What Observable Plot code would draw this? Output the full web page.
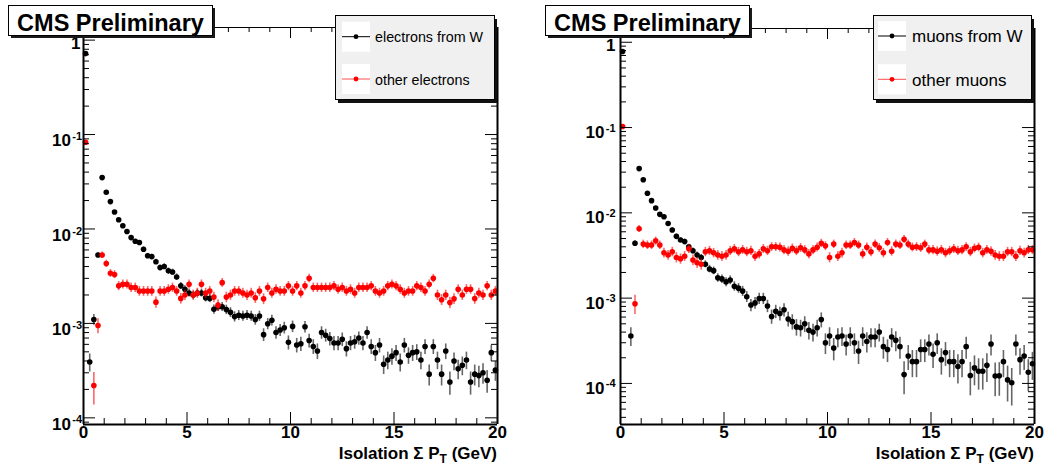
<!DOCTYPE html>
<html><head><meta charset="utf-8">
<script src="https://cdn.jsdelivr.net/npm/d3@7"></script>
<script src="https://cdn.jsdelivr.net/npm/@observablehq/plot@0.6"></script>
<style>
body{margin:0;background:#fff;font-family:"Liberation Sans",Arial,sans-serif;}
#root{position:relative;width:1044px;height:465px;overflow:hidden;background:#fff;}
#root svg.panel{position:absolute;top:0;}
#overlay{position:absolute;left:0;top:0;pointer-events:none;}
</style></head><body><div id="root"></div>
<script>
// ---- data (bins of 0.2 GeV, centres 0.1 ... 19.9) ----
const binCenters = d3.range(100).map(i => +(0.1 + 0.2 * i).toFixed(1));

const electronsFromW = [
  0.72, 3.9e-4, 1.1e-3, 5.3e-3, 0.035, 0.0245, 0.0195, 0.0151, 0.0125, 0.0108,
  0.0094, 0.0081, 0.0074, 0.0072, 0.0061, 0.0052, 0.0051, 0.0045, 0.0039, 0.0040,
  0.0036, 0.0035, 0.0031, 0.0025, 0.0023, 0.0021, 0.0020, 0.0021, 0.0021, 0.00187,
  0.00184, 0.00141, 0.0015, 0.0015, 0.0014, 0.00131, 0.00118, 0.00122, 0.0012, 0.00122,
  0.0012, 0.0011, 0.0012, 0.00076, 0.00099, 0.00108, 0.0008, 0.00085, 0.0009, 0.00063,
  0.00093, 0.00059, 0.00061, 0.00092, 0.00066, 0.00057, 0.00051, 0.0008, 0.00075, 0.00069,
  0.00062, 0.00062, 0.00068, 0.00054, 0.00062, 0.00064, 0.0007, 0.00062, 0.0008, 0.00057,
  0.00049, 0.00059, 0.00037, 0.00041, 0.00045, 0.00049, 0.00039, 0.00059, 0.00046, 0.00049,
  0.0005, 0.00041, 0.00057, 0.00029, 0.00057, 0.00041, 0.00029, 0.00051, 0.00024, 0.0004,
  0.00033, 0.00036, 0.00041, 0.00024, 0.00029, 0.00028, 0.0003, 0.00025, 0.00049, 0.00032
];
const otherElectrons = [
  0.083, null, 2.2e-4, 9.5e-4, 5.3e-3, 0.0043, 0.0034, 0.0033, 0.0025, 0.0026,
  0.0026, 0.0024, 0.0024, 0.0022, 0.0022, 0.0022, 0.0022, 0.00168, 0.0022, 0.0022,
  0.0023, 0.0024, 0.0022, 0.00184, 0.0020, 0.0026, 0.0020, 0.0021, 0.0026, 0.0021,
  0.0022, 0.0019, 0.00156, 0.0027, 0.0019, 0.0020, 0.0022, 0.0022, 0.0021, 0.0020,
  0.0021, 0.00187, 0.0022, 0.00182, 0.0024, 0.0021, 0.0023, 0.0022, 0.0022, 0.0025,
  0.0022, 0.0025, 0.0021, 0.0025, 0.0030, 0.0024, 0.0024, 0.0024, 0.0024, 0.0024,
  0.0025, 0.0023, 0.0024, 0.0022, 0.0023, 0.0021, 0.0024, 0.0024, 0.0024, 0.0025,
  0.0022, 0.0021, 0.0022, 0.0025, 0.0026, 0.0025, 0.0023, 0.0021, 0.0022, 0.0022,
  0.0025, 0.0024, 0.0022, 0.0026, 0.0030, 0.0020, 0.00178, 0.0020, 0.00166, 0.00182,
  0.0023, 0.0020, 0.0023, 0.0023, 0.00183, 0.0021, 0.0020, 0.0025, 0.0020, 0.0022
];
const muonsFromW = [
  0.78, null, 3.6e-4, 0.0044, 0.033, 0.0244, 0.017, 0.0139, 0.0114, 0.0096,
  0.009, 0.0075, 0.0063, 0.0053, 0.0048, 0.0046, 0.0040, 0.0036, 0.0032, 0.0030,
  0.0025, 0.0022, 0.0021, 0.00173, 0.00168, 0.00155, 0.00163, 0.00138, 0.00131, 0.00121,
  0.00104, 0.00083, 0.00088, 0.00099, 0.00099, 0.00081, 0.00061, 0.0007, 0.00066, 0.00073,
  0.00057, 0.00053, 0.00046, 0.00045, 0.0005, 0.00042, 0.0004, 0.00045, 0.00056, 0.0003,
  0.00036, 0.00026, 0.00035, 0.00036, 0.00029, 0.00036, 0.0003, 0.00024, 0.00036, 0.00031,
  0.00035, 0.00035, 0.0004, 0.00027, 0.00025, 0.00035, 0.00032, 0.00027, 0.000127, 0.00021,
  0.00018, 0.00018, 0.00025, 0.00025, 0.00029, 0.00022, 0.0003, 0.00019, 0.00023, 0.00018,
  0.00018, 0.000158, 0.00018, 0.00027, 0.000124, 0.000152, 0.000139, 0.000139, 0.000163, 0.00029,
  0.000122, 0.000123, 0.00018, 0.00011, 0.000102, 0.00029, 0.00019, 0.00021, 0.000135, 0.00017
];
const otherMuons = [
  0.103, null, null, 8.6e-4, 0.0065, 0.0043, 0.0042, 0.0042, 0.0047, 0.0042,
  0.0034, 0.0032, 0.0035, 0.0030, 0.0029, 0.0031, 0.0038, 0.0028, 0.0026, 0.0025,
  0.0035, 0.0036, 0.0034, 0.0032, 0.0031, 0.0032, 0.0036, 0.0038, 0.0035, 0.0037,
  0.0035, 0.0036, 0.0031, 0.0033, 0.0038, 0.0036, 0.0040, 0.0040, 0.00395, 0.00368,
  0.00355, 0.00385, 0.0036, 0.0039, 0.00368, 0.0033, 0.00368, 0.00395, 0.0044, 0.0041,
  0.0030, 0.0043, 0.0031, 0.0034, 0.0042, 0.0042, 0.0045, 0.0042, 0.0033, 0.00395,
  0.0035, 0.0043, 0.0039, 0.0034, 0.0045, 0.00355, 0.0043, 0.0042, 0.0049, 0.0043,
  0.00395, 0.0040, 0.0039, 0.0043, 0.00368, 0.00368, 0.00355, 0.0037, 0.0034, 0.0036,
  0.0038, 0.0036, 0.00368, 0.0040, 0.0035, 0.00385, 0.00395, 0.0034, 0.0037, 0.00355,
  0.0032, 0.0031, 0.0031, 0.0035, 0.0035, 0.0031, 0.0036, 0.0034, 0.0037, 0.0037
];
// effective number of entries (sets the size of the statistical error bars)
const entriesElectronsFromW = 55000;
const entriesOtherElectrons = 32000;
const entriesMuonsFromW = 45000;
const entriesOtherMuons = 18000;

const xMajorTicks = [0, 5, 10, 15, 20];
const xTickLabels = ["0", "5", "10", "15", "20"];
const legendElectrons = ["electrons from W", "other electrons"];
const legendMuons = ["muons from W", "other muons"];
const panelTitle = "CMS Preliminary";

// ---- drawing ----
const H = 465;
const FONT = "'Liberation Sans', Arial, Helvetica, sans-serif";

function series(vals, nTot, ymin) {
  const out = [];
  vals.forEach((v, i) => {
    if (v == null) return;
    const rel = 1 / Math.sqrt(v * nTot);
    out.push({x: binCenters[i], v, lo: Math.max(v * (1 - rel), ymin * 0.3), hi: v * (1 + rel)});
  });
  return out;
}

function makePanel(o) {
  const iw = o.width - o.ml - o.mr, ih = H - o.mt - o.mb;
  const [y0, y1] = o.ydom;
  const decades = [], minors = [];
  for (let e = -6; e <= 1; e++) {
    const d = Math.pow(10, e);
    if (d >= y0 && d <= y1) decades.push(d);
    for (let k = 2; k <= 9; k++) { const m = k * Math.pow(10, e); if (m >= y0 && m <= y1) minors.push(m); }
  }
  const xMinor = d3.range(0, 21).filter(v => v % 5 !== 0);
  const A = series(o.a, o.na, y0), B = series(o.b, o.nb, y0);
  const lab = {fontSize: 17, fontWeight: "bold", fill: "#000", fontFamily: FONT};
  const sub1 = decades.filter(d => d < 0.5), one = decades.filter(d => d >= 0.5);
  return Plot.plot({
    width: o.width, height: H,
    marginLeft: o.ml, marginRight: o.mr, marginTop: o.mt, marginBottom: o.mb,
    style: {fontFamily: FONT, background: "transparent", overflow: "visible"},
    x: {domain: [0, 20], axis: null},
    y: {type: "log", domain: o.ydom, axis: null},
    marks: [
      Plot.ruleX(A, {x: "x", y1: "lo", y2: "hi", stroke: "#000", strokeOpacity: 0.6, strokeWidth: 1.6, clip: true}),
      Plot.dot(A, {x: "x", y: "v", r: 2.8, fill: "#000", stroke: "none"}),
      Plot.ruleX(B, {x: "x", y1: "lo", y2: "hi", stroke: "#f00", strokeOpacity: 0.6, strokeWidth: 1.6, clip: true}),
      Plot.dot(B, {x: "x", y: "v", r: 2.8, fill: "#f00", stroke: "none"}),
      // ticks: bottom (up), top (down)
      Plot.tickX(xMajorTicks, {x: d => d, insetTop: ih - 12, stroke: "#000"}),
      Plot.tickX(xMinor, {x: d => d, insetTop: ih - 6, stroke: "#000"}),
      Plot.tickX(xMajorTicks, {x: d => d, insetBottom: ih - 11, stroke: "#000"}),
      Plot.tickX(xMinor, {x: d => d, insetBottom: ih - 5, stroke: "#000"}),
      // ticks: left (right), right (left)
      Plot.tickY(decades, {y: d => d, insetRight: iw - 12, stroke: "#000"}),
      Plot.tickY(minors, {y: d => d, insetRight: iw - 6, stroke: "#000"}),
      Plot.tickY(decades, {y: d => d, insetLeft: iw - 12, stroke: "#000"}),
      Plot.tickY(minors, {y: d => d, insetLeft: iw - 6, stroke: "#000"}),
      // frame
      Plot.ruleY([y1], {stroke: "#000", strokeWidth: 1}),
      Plot.ruleX([0, 20], {stroke: "#000", strokeWidth: 2}),
      Plot.ruleY([y0], {stroke: "#000", strokeWidth: 2}),
      // x tick labels
      Plot.text(xMajorTicks, {x: d => d, frameAnchor: "bottom", text: (d, i) => xTickLabels[i], dy: 13, ...lab}),
      // y tick labels 10^n
      Plot.text(sub1, {y: d => d, frameAnchor: "left", text: () => "10", textAnchor: "end", dx: o.tenDx, dy: o.tenDy, ...lab}),
      Plot.text(sub1, {y: d => d, frameAnchor: "left", text: d => "-" + Math.round(-Math.log10(d)), textAnchor: "end", dx: o.expDx, dy: o.expDy, ...lab, fontSize: o.expFs}),
      Plot.text(one, {y: d => d, frameAnchor: "left", text: () => "1", textAnchor: "end", dx: o.oneDx, dy: 3.5, ...lab})
    ]
  });
}

const root = document.getElementById("root");
const panels = [
  {left: 0, width: 522, ml: 83, mr: 25, mt: 27, mb: 41, ydom: [8.5e-5, 1.36],
   a: electronsFromW, b: otherElectrons, na: entriesElectronsFromW, nb: entriesOtherElectrons,
   tenDx: -12.5, tenDy: 6.5, expDx: -1.5, expDy: 2, expFs: 11, oneDx: -3},
  {left: 522, width: 522, ml: 98, mr: 10, mt: 28, mb: 41, ydom: [3.3e-5, 1.45],
   a: muonsFromW, b: otherMuons, na: entriesMuonsFromW, nb: entriesOtherMuons,
   tenDx: -16, tenDy: 5, expDx: -5, expDy: 0.5, expFs: 11, oneDx: -5}
];
panels.forEach(p => {
  const svg = makePanel(p);
  svg.classList.add("panel");
  svg.style.left = p.left + "px";
  root.appendChild(svg);
});

// ---- overlay: titles, legends, axis titles ----
const ov = d3.select(root).append("svg").attr("id", "overlay").attr("width", 1044).attr("height", H)
  .style("font-family", FONT);

function titleBox(x, y, w, h) {
  ov.append("rect").attr("x", x + 3).attr("y", y + 3).attr("width", w).attr("height", h).attr("fill", "#1a1a1a");
  ov.append("rect").attr("x", x + 0.5).attr("y", y + 0.5).attr("width", w).attr("height", h).attr("fill", "#fff").attr("stroke", "#000");
  ov.append("text").attr("x", x + w / 2 + 0.5).attr("y", y + 26).attr("text-anchor", "middle")
    .attr("font-size", 23.5).attr("font-weight", "bold").text(panelTitle);
}
titleBox(8, 5, 204, 30);
titleBox(545, 5, 204, 30);

function legend(x, y, w, h, sx, tx, rowsY, labels, fs) {
  ov.append("rect").attr("x", x + 3).attr("y", y + 4).attr("width", w).attr("height", h).attr("fill", "#111");
  ov.append("rect").attr("x", x + 0.5).attr("y", y + 0.5).attr("width", w).attr("height", h).attr("fill", "#f0f0f0").attr("stroke", "#000");
  const cols = ["#000", "#f00"];
  labels.forEach((lbl, i) => {
    const cy = rowsY[i];
    ov.append("rect").attr("x", sx).attr("y", cy - 15).attr("width", 28).attr("height", 30).attr("fill", "#fff");
    ov.append("line").attr("x1", sx).attr("x2", sx + 28).attr("y1", cy).attr("y2", cy)
      .attr("stroke", cols[i]).attr("stroke-width", 1).attr("stroke-opacity", i ? 0.7 : 1);
    ov.append("circle").attr("cx", sx + 14).attr("cy", cy).attr("r", 2.4).attr("fill", cols[i]);
    ov.append("text").attr("x", tx).attr("y", cy + 2).attr("dominant-baseline", "middle")
      .attr("font-size", fs).attr("fill", "#000").text(lbl);
  });
}
legend(335, 15, 159, 84, 342, 375, [36.7, 79], legendElectrons, 14.3);
legend(873, 15, 158, 84, 878, 912, [36, 79.3], legendMuons, 17);

function xTitle(xRight) {
  const t = ov.append("text").attr("x", xRight).attr("y", 458.5).attr("text-anchor", "end")
    .attr("font-size", 17).attr("font-weight", "bold");
  t.append("tspan").text("Isolation Σ P");
  t.append("tspan").attr("font-size", 12).attr("dy", 4).text("T");
  t.append("tspan").attr("dy", -4).text(" (GeV)");
}
xTitle(497);
xTitle(1034);
</script></body></html>
